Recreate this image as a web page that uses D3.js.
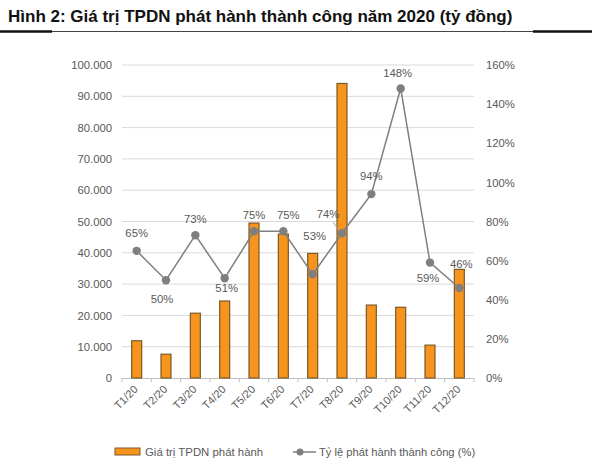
<!DOCTYPE html>
<html><head><meta charset="utf-8">
<script src="https://cdn.jsdelivr.net/npm/d3@7"></script>
<style>body{margin:0;background:#fff;font-family:Arial,"Liberation Sans",sans-serif}</style>
</head><body><svg id="c" width="600" height="469"></svg>
<script>
const categories=["T1/20","T2/20","T3/20","T4/20","T5/20","T6/20","T7/20","T8/20","T9/20","T10/20","T11/20","T12/20"];
const issueValue=[11900,7600,20700,24600,49500,46000,39800,94100,23300,22600,10500,34700];
const successRate=[65,50,73,51,75,75,53,74,94,148,59,46];
const leftTicks=[0,10000,20000,30000,40000,50000,60000,70000,80000,90000,100000];
const rightTicks=[0,20,40,60,80,100,120,140,160];

const svg=d3.select("#c");
const L=122,R=474,T=65,B=378;
const x=d3.scaleBand().domain(categories).range([L,R]).padding(0);
const yL=d3.scaleLinear().domain([0,100000]).range([B,T]);
const yR=d3.scaleLinear().domain([0,160]).range([B,T]);
const fmt=v=>v===0?"0":d3.format(",")(v).replace(/,/g,".");
// label placement offsets (layout only)
const lblDx=[0,-4,0,2,0,5,2,-14,0,-3,-2,2];
const lblDy=[-14,23,-12,14,-12,-12,-34,-15,-14,-11,19,-20];

// title
svg.append("text").attr("x",8).attr("y",22).attr("font-size",17).attr("font-weight","bold").attr("fill","#111").text("Hình 2: Giá trị TPDN phát hành thành công năm 2020 (tỷ đồng)");
svg.append("line").attr("x1",0).attr("x2",592).attr("y1",31.5).attr("y2",31.5).attr("stroke","#444").attr("stroke-width",1);
svg.append("line").attr("x1",0).attr("x2",52).attr("y1",31.5).attr("y2",31.5).attr("stroke","#111").attr("stroke-width",2.5);
svg.append("line").attr("x1",533).attr("x2",592).attr("y1",31.5).attr("y2",31.5).attr("stroke","#111").attr("stroke-width",2.5);

// grid
svg.append("g").selectAll("line").data(leftTicks.slice(1)).join("line")
 .attr("x1",L).attr("x2",R).attr("y1",d=>yL(d)).attr("y2",d=>yL(d)).attr("stroke","#d9d9d9").attr("stroke-width",1);

// left axis
const ga=svg.append("g").attr("transform",`translate(${L-10},0)`).call(d3.axisLeft(yL).tickValues(leftTicks).tickFormat(fmt).tickSize(0).tickPadding(0));
ga.select(".domain").remove();
ga.selectAll("text").attr("font-size",11.3).attr("fill","#595959").attr("font-family","Arial,'Liberation Sans',sans-serif");
// right axis
const gr=svg.append("g").attr("transform",`translate(${R+12},0)`).call(d3.axisRight(yR).tickValues(rightTicks).tickFormat(d=>d+"%").tickSize(0).tickPadding(0));
gr.select(".domain").remove();
gr.selectAll("text").attr("font-size",11.3).attr("fill","#595959").attr("font-family","Arial,'Liberation Sans',sans-serif");

// bottom axis
svg.append("line").attr("x1",L).attr("x2",R).attr("y1",B+0.5).attr("y2",B+0.5).attr("stroke","#bfbfbf");
svg.append("g").selectAll("line").data(categories.concat(["end"])).join("line")
 .attr("x1",(d,i)=>L+i*x.bandwidth()).attr("x2",(d,i)=>L+i*x.bandwidth()).attr("y1",B).attr("y2",B+4).attr("stroke","#bfbfbf");
svg.append("g").selectAll("text").data(categories).join("text")
 .attr("transform",d=>`translate(${x(d)+x.bandwidth()/2+2},${B+12}) rotate(-45)`)
 .attr("text-anchor","end").attr("font-size",11).attr("fill","#595959").text(d=>d);

// bars
const bw=10;
svg.append("g").selectAll("rect").data(issueValue).join("rect")
 .attr("x",(d,i)=>x(categories[i])+x.bandwidth()/2-bw/2).attr("width",bw)
 .attr("y",d=>yL(d)).attr("height",d=>B-yL(d))
 .attr("fill","#f7941d").attr("stroke","#7a5a2a").attr("stroke-width",1.2);

// line
const cx=i=>x(categories[i])+x.bandwidth()/2;
svg.append("path").datum(successRate).attr("fill","none").attr("stroke","#7f7f7f").attr("stroke-width",1.5)
 .attr("d",d3.line().x((d,i)=>cx(i)).y(d=>yR(d)));
svg.append("g").selectAll("circle").data(successRate).join("circle")
 .attr("cx",(d,i)=>cx(i)).attr("cy",d=>yR(d)).attr("r",4.2).attr("fill","#7f7f7f");
// leader line for T8 label
svg.append("line").attr("x1",cx(7)-9).attr("y1",yR(successRate[7])-11).attr("x2",cx(7)-3).attr("y2",yR(successRate[7])-3).attr("stroke","#a6a6a6").attr("stroke-width",1);
svg.append("g").selectAll("text").data(successRate).join("text")
 .attr("x",(d,i)=>cx(i)+lblDx[i])
 .attr("y",(d,i)=>yR(d)+lblDy[i])
 .attr("text-anchor","middle").attr("font-size",11.3).attr("fill","#595959").text(d=>d+"%");

// legend
svg.append("rect").attr("x",115).attr("y",448).attr("width",25).attr("height",7).attr("fill","#f7941d").attr("stroke","#7a5a2a");
svg.append("text").attr("x",145).attr("y",456).attr("font-size",11.4).attr("fill","#595959").text("Giá trị TPDN phát hành");
svg.append("line").attr("x1",293).attr("x2",316).attr("y1",452).attr("y2",452).attr("stroke","#7f7f7f").attr("stroke-width",1.5);
svg.append("circle").attr("cx",300).attr("cy",452).attr("r",3.5).attr("fill","#7f7f7f");
svg.append("text").attr("x",319).attr("y",456).attr("font-size",11.2).attr("fill","#595959").text("Tỷ lệ phát hành thành công (%)");
</script></body></html>
